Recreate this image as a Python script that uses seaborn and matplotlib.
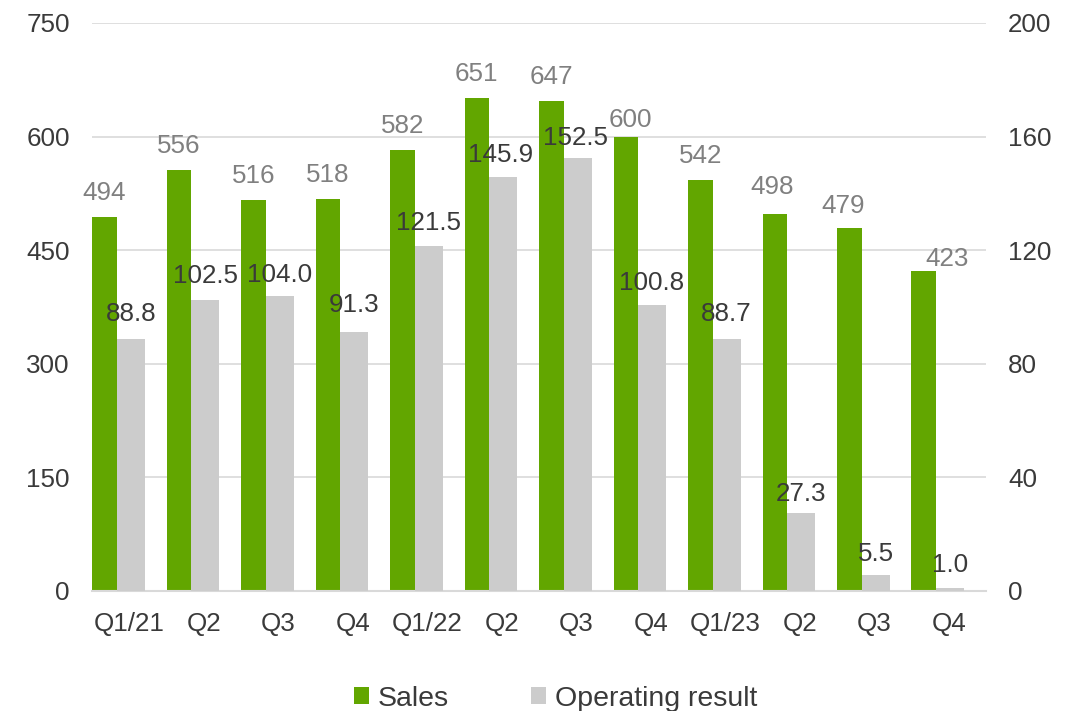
import matplotlib
matplotlib.use("Agg")
import matplotlib.pyplot as plt
from matplotlib.patches import Patch
import numpy as np
import seaborn as sns

# Quarterly figures
quarters = ["Q1/21", "Q2", "Q3", "Q4", "Q1/22", "Q2", "Q3", "Q4", "Q1/23", "Q2", "Q3", "Q4"]
sales = [494, 556, 516, 518, 582, 651, 647, 600, 542, 498, 479, 423]
operating_result = [88.8, 102.5, 104.0, 91.3, 121.5, 145.9, 152.5, 100.8, 88.7, 27.3, 5.5, 1.0]

# Label placement nudges (pixels: dx, gap above bar top to baseline)
sales_label_shift = [(0, 17), (0, 17), (0, 17), (0, 17), (0, 17), (0, 17),
                     (0, 17), (5, 10), (0, 17), (-3, 20), (-6, 15), (23.5, 5)]
op_label_shift = [(0, 18), (0, 17), (0, 14), (0, 20), (0, 16), (-3, 15),
                  (-2, 13), (-1, 15), (-1, 18), (0, 12), (0, 14), (0, 16)]

GREEN = "#62A600"
GREY = "#CCCCCC"
GRID = "#D9D9D9"
TEXT = "#3A3A3A"
LABEL_GREY = "#808080"
PX = 72 / 100  # points per pixel at 100 dpi

sns.set_theme(style="white")
plt.rcParams["font.family"] = ["Liberation Sans", "DejaVu Sans"]
plt.rcParams["font.size"] = 18.7

fig = plt.figure(figsize=(10.79, 7.11), dpi=100)
ax = fig.add_axes([0.0853, 0.1688, 0.8285, 0.7989])
ax2 = ax.twinx()

idx = np.arange(len(quarters))
w_sales = 0.33
w_op = 0.38
pos_sales = idx - 0.5 + w_sales / 2
pos_op = idx - 0.5 + w_sales + w_op / 2

sns.barplot(x=pos_sales, y=sales, native_scale=True, width=w_sales,
            color=GREEN, saturation=1, linewidth=0, ax=ax)
sns.barplot(x=pos_op, y=operating_result, native_scale=True, width=w_op,
            color=GREY, saturation=1, linewidth=0, ax=ax2)

for a in (ax, ax2):
    a.set_xlim(-0.5, len(quarters) - 0.5)
    for s in a.spines.values():
        s.set_visible(False)
    a.tick_params(length=0)

ax.set_ylim(0, 750)
ax.set_yticks(np.arange(0, 751, 150))
ax2.set_ylim(0, 200)
ax2.set_yticks(np.arange(0, 201, 40))
ax.yaxis.grid(True, color=GRID, linewidth=1.2)
ax.set_axisbelow(True)
ax.spines["bottom"].set_visible(True)
ax.spines["bottom"].set_color(GRID)
ax.spines["bottom"].set_linewidth(1.5)

ax.set_xticks(idx)
ax.set_xticklabels(quarters)
ax.tick_params(axis="x", pad=15, labelsize=18.7, labelcolor=TEXT)
ax.tick_params(axis="y", pad=16, labelsize=18.7, labelcolor=TEXT)
ax2.tick_params(axis="y", pad=16, labelsize=18.7, labelcolor=TEXT)
ax.set_xlabel("")
ax.set_ylabel("")
ax2.set_ylabel("")

for x, v, (dx, dy) in zip(pos_sales, sales, sales_label_shift):
    ax.annotate(f"{v}", (x, v), xytext=(dx * PX, dy * PX), textcoords="offset points",
                ha="center", va="baseline", color=LABEL_GREY, fontsize=18.7)
for x, v, (dx, dy) in zip(pos_op, operating_result, op_label_shift):
    ax2.annotate(f"{v:.1f}", (x, v), xytext=(dx * PX, dy * PX), textcoords="offset points",
                 ha="center", va="baseline", color=TEXT, fontsize=18.7)

handles = [Patch(facecolor=GREEN, edgecolor="none", label="Sales"),
           Patch(facecolor=GREY, edgecolor="none", label="Operating result")]
fig.legend(handles=handles, loc="center", bbox_to_anchor=(0.515, 0.017),
           ncol=2, frameon=False, fontsize=20.5, labelcolor=TEXT,
           handlelength=0.53, handleheight=0.53, handletextpad=0.3,
           columnspacing=2.9)

fig.savefig("out.png", dpi=100)
